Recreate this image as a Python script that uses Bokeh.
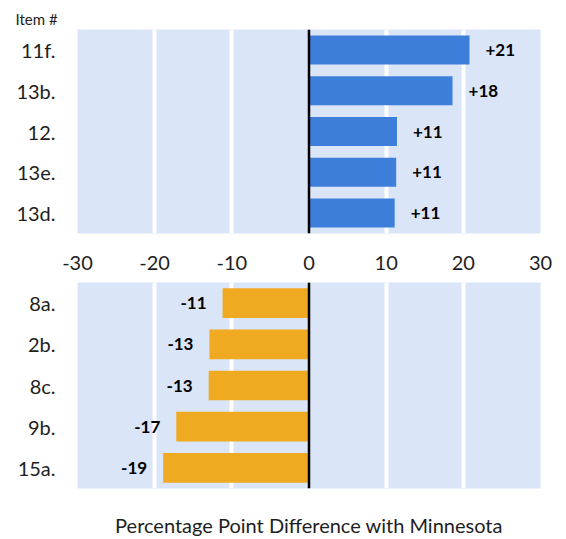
from bokeh.plotting import figure
from bokeh.models import FactorRange, Range1d, FixedTicker, Span
from bokeh.layouts import column
from bokeh.core.properties import value
from bokeh.embed import file_html
from bokeh.resources import INLINE

# ---- data ----
top_items = ["11f.", "13b.", "12.", "13e.", "13d."]
top_values = [20.8, 18.6, 11.4, 11.3, 11.1]
top_labels = ["+21", "+18", "+11", "+11", "+11"]

bottom_items = ["8a.", "2b.", "8c.", "9b.", "15a."]
bottom_values = [-11.2, -12.9, -13.0, -17.2, -18.9]
bottom_labels = ["-11", "-13", "-13", "-17", "-19"]

x_ticks = [-30, -20, -10, 0, 10, 20, 30]
x_tick_labels = ["-30", "-20", "-10", "0", "10", "20", "30"]
grid_ticks = [-20, -10, 10, 20]
x_title = "Percentage Point Difference with Minnesota"
y_title = "Item #"

FONT = "Lato"
BG = "#DAE5F7"
BLUE = "#3D7EDB"
ORANGE = "#EFAA22"
TXT = "#1e1e1e"


def base_fig(items, height, mb_top, mb_bottom):
    p = figure(width=558, height=height, output_backend="svg", toolbar_location=None,
               x_range=Range1d(-30, 30),
               y_range=FactorRange(factors=list(reversed(items))),
               min_border_left=77, min_border_right=18,
               min_border_top=mb_top, min_border_bottom=mb_bottom)
    p.background_fill_color = BG
    p.border_fill_color = "white"
    p.outline_line_color = None
    p.ygrid.grid_line_color = None
    p.xgrid.ticker = FixedTicker(ticks=grid_ticks)
    p.xgrid.grid_line_color = "white"
    p.xgrid.grid_line_width = 4
    ya = p.yaxis[0]
    ya.axis_line_color = None
    ya.major_tick_line_color = None
    ya.minor_tick_line_color = None
    ya.major_tick_out = 0
    ya.major_tick_in = 0
    ya.major_label_standoff = 22
    ya.major_label_text_font = FONT
    ya.major_label_text_font_size = "20px"
    ya.major_label_text_color = TXT
    xa = p.xaxis[0]
    xa.axis_line_color = None
    xa.major_tick_line_color = None
    xa.minor_tick_line_color = None
    xa.major_tick_out = 0
    xa.major_tick_in = 0
    xa.major_label_text_font = FONT
    xa.major_label_text_font_size = "20px"
    xa.major_label_text_color = TXT
    p.add_layout(Span(location=0, dimension="height", line_color="black", line_width=2.5))
    return p


# ---- top panel ----
top = base_fig(top_items, 278, 29, 45)
top.title.text = y_title
top.title.align = "left"
top.title.offset = -62
top.title.standoff = 3
top.title.text_font = FONT
top.title.text_font_style = "normal"
top.title.text_font_size = "15px"
top.title.text_color = TXT
top.xaxis[0].ticker = FixedTicker(ticks=x_ticks)
top.xaxis[0].major_label_overrides = dict(zip(x_ticks, x_tick_labels))
top.xaxis[0].major_label_standoff = 22
top.hbar(y=top_items, right=top_values, left=0, height=0.71,
         fill_color=BLUE, line_color=None)
top.text(x=top_values, y=top_items, text=top_labels, x_offset=16,
         text_align="left", text_baseline="middle",
         text_font=value(FONT), text_font_style="bold",
         text_font_size="17px", text_color="black")

# ---- bottom panel ----
bot = base_fig(bottom_items, 261, 4, 48)
bot.xaxis[0].ticker = FixedTicker(ticks=[])
bot.xaxis[0].major_label_standoff = 0
bot.xaxis[0].axis_label = x_title
bot.xaxis[0].axis_label_standoff = 24
bot.xaxis[0].axis_label_text_font = FONT
bot.xaxis[0].axis_label_text_font_style = "normal"
bot.xaxis[0].axis_label_text_font_size = "20px"
bot.xaxis[0].axis_label_text_color = TXT
bot.hbar(y=bottom_items, right=0, left=bottom_values, height=0.72,
         fill_color=ORANGE, line_color=None)
bot.text(x=bottom_values, y=bottom_items, text=bottom_labels, x_offset=-16,
         text_align="right", text_baseline="middle",
         text_font=value(FONT), text_font_style="bold",
         text_font_size="17px", text_color="black")

layout = column(top, bot, spacing=0)
open("out.html", "w").write(file_html(layout, INLINE))
